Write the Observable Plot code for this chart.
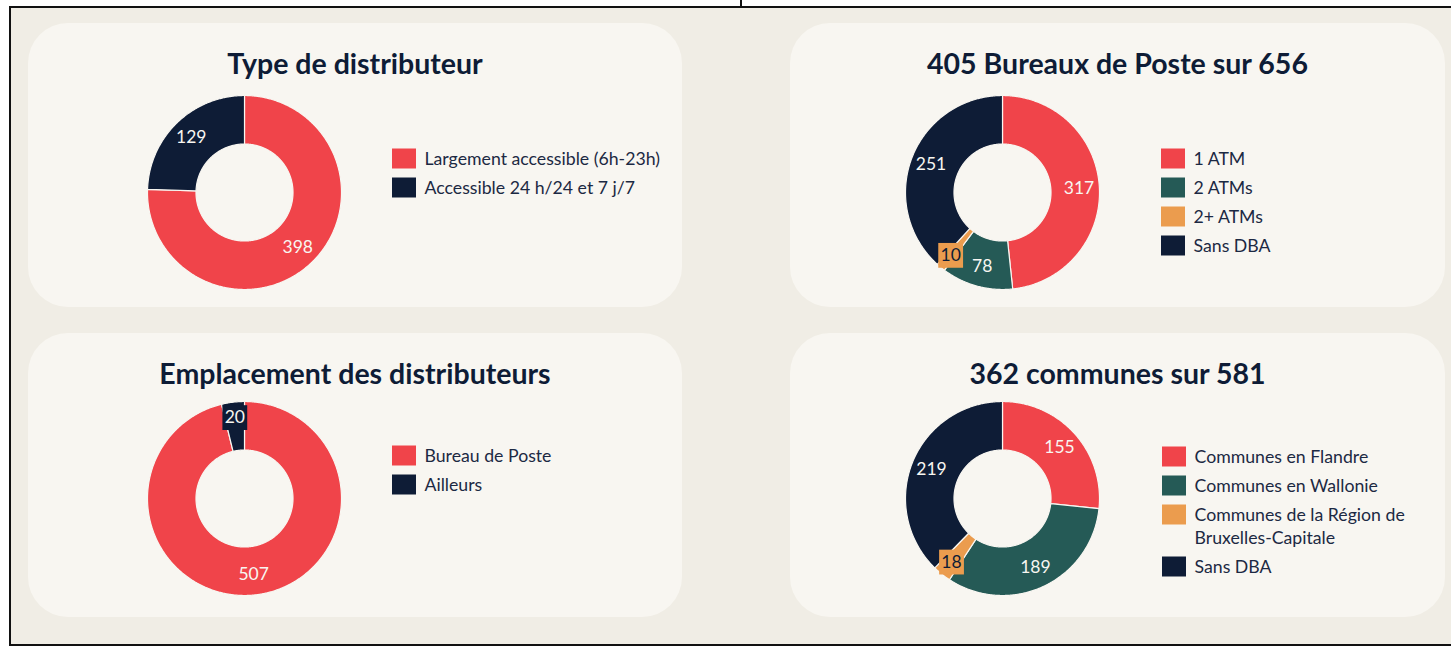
<!DOCTYPE html>
<html><head><meta charset="utf-8">
<script src="https://cdn.jsdelivr.net/npm/d3@7"></script>
<script src="https://cdn.jsdelivr.net/npm/@observablehq/plot@0.6"></script>
<style>
html,body{margin:0;padding:0;background:#fff;width:1451px;height:647px;overflow:hidden;font-family:Lato,sans-serif}
#frame{position:absolute;left:9px;top:6px;width:1470px;height:640px;border:2px solid #111;box-sizing:border-box;background:#f0ede5}
#tick{position:absolute;left:740px;top:0;width:2px;height:6px;background:#111}
.card{position:absolute;background:#f8f6f1;border-radius:40px}
.title{position:absolute;left:0;right:0;text-align:center;font-weight:700;color:#0e1c36;font-size:28.5px;line-height:1;white-space:nowrap}
.abs{position:absolute}
</style></head>
<body>
<div id="frame"></div><div id="tick"></div>
<script>
// ---- data ----
const titles = ["Type de distributeur", "405 Bureaux de Poste sur 656", "Emplacement des distributeurs", "362 communes sur 581"];
const typeLabels = ["Largement accessible (6h-23h)", "Accessible 24 h/24 et 7 j/7"];
const typeValues = [398, 129];
const bureauLabels = ["1 ATM", "2 ATMs", "2+ ATMs", "Sans DBA"];
const bureauValues = [317, 78, 10, 251];
const lieuLabels = ["Bureau de Poste", "Ailleurs"];
const lieuValues = [507, 20];
const communeLabels = ["Communes en Flandre", "Communes en Wallonie", "Communes de la Région de\nBruxelles-Capitale", "Sans DBA"];
const communeValues = [155, 189, 18, 219];

// ---- styles ----
const RED = "#f0444a", NAVY = "#0e1c36", TEAL = "#255a56", ORANGE = "#eb9c4e";
const CARD = "#f8f6f1";
const colors2 = [RED, NAVY];
const colors4 = [RED, TEAL, ORANGE, NAVY];
const FONT = "Lato, sans-serif";

// ---- layout (page px) ----
const panels = [
  {title: titles[0], labels: typeLabels, values: typeValues, colors: colors2,
   card: [28, 23, 654, 284], center: [244, 192], legend: [392, 158]},
  {title: titles[1], labels: bureauLabels, values: bureauValues, colors: colors4,
   card: [790, 23, 655, 284], center: [1002, 192], legend: [1161, 158]},
  {title: titles[2], labels: lieuLabels, values: lieuValues, colors: colors2,
   card: [28, 333, 654, 284], center: [244, 498], legend: [392, 455]},
  {title: titles[3], labels: communeLabels, values: communeValues, colors: colors4,
   card: [790, 333, 655, 284], center: [1002, 498], legend: [1162, 456]}
];
const R_PX = 97, INNER = 0.5, S = 220, ROW = 29, WRAP = 23;

function donut(p) {
  const rows = p.labels.map((label, i) => ({label, value: p.values[i]}));
  const total = d3.sum(p.values);
  const arcs = d3.pie().sort(null).value(d => d.value)(rows);
  const pts = [], labs = [];
  for (const a of arcs) {
    const n = Math.max(2, Math.ceil((a.endAngle - a.startAngle) / (Math.PI / 360)));
    for (let i = 0; i <= n; i++) {
      const t = a.startAngle + (a.endAngle - a.startAngle) * i / n;
      pts.push({label: a.data.label, x: Math.sin(t), y: Math.cos(t)});
    }
    for (let i = n; i >= 0; i--) {
      const t = a.startAngle + (a.endAngle - a.startAngle) * i / n;
      pts.push({label: a.data.label, x: INNER * Math.sin(t), y: INNER * Math.cos(t)});
    }
    const m = (a.startAngle + a.endAngle) / 2;
    const small = a.data.value / total < 0.05;
    const rr = small ? 0.84 : 0.79;
    const col = p.colors[p.labels.indexOf(a.data.label)];
    labs.push({label: a.data.label, value: a.data.value, x: rr * Math.sin(m), y: rr * Math.cos(m),
               small, dark: col === ORANGE});
  }
  const D = S / 2 / R_PX;
  const plot = Plot.plot({
    width: S, height: S, margin: 0,
    x: {domain: [-D, D], axis: null},
    y: {domain: [-D, D], axis: null},
    color: {domain: p.labels, range: p.colors},
    style: {background: "transparent", fontFamily: FONT, overflow: "visible"},
    marks: [
      Plot.line(pts, {x: "x", y: "y", z: "label", fill: "label", stroke: CARD, strokeWidth: 1.2, curve: "linear-closed"}),
      Plot.dot(labs.filter(d => d.small), {x: "x", y: "y", symbol: "square", r: 14, fill: "label"}),
      Plot.text(labs.filter(d => !d.dark), {x: "x", y: "y", text: d => String(d.value), fill: "#f8f6f1", fontSize: 17.5, fontFamily: FONT}),
      Plot.text(labs.filter(d => d.dark), {x: "x", y: "y", text: d => String(d.value), fill: NAVY, fontSize: 17.5, fontFamily: FONT})
    ]
  });
  plot.classList.add("abs");
  plot.style.left = (p.center[0] - S / 2) + "px";
  plot.style.top = (p.center[1] - S / 2) + "px";
  return plot;
}

function legend(p) {
  const items = [], lines = [];
  let pos = 0;
  p.labels.forEach((label, i) => {
    items.push({label, row: pos});
    label.split("\n").forEach((t, j) => lines.push({text: t, pos: pos + j * WRAP / ROW}));
    pos += 1 + (label.split("\n").length - 1) * WRAP / ROW;
  });
  const W = 330, H = Math.ceil(pos * ROW);
  const plot = Plot.plot({
    width: W, height: H, margin: 0,
    x: {domain: [0, W], range: [0, W], axis: null},
    y: {domain: [-0.5, pos - 0.5], range: [0, H], axis: null},
    color: {domain: p.labels, range: p.colors},
    style: {background: "transparent", fontFamily: FONT, overflow: "visible"},
    marks: [
      Plot.rect(items, {x1: () => 0, x2: () => 24, y1: d => d.row - 10 / ROW, y2: d => d.row + 10 / ROW, fill: "label"}),
      Plot.text(lines, {x: () => 32, y: "pos", text: "text", textAnchor: "start", fill: "#1c2943", fontSize: 17.7, fontFamily: FONT})
    ]
  });
  plot.classList.add("abs");
  plot.style.left = p.legend[0] + "px";
  plot.style.top = (p.legend[1] - ROW / 2) + "px";
  return plot;
}

for (const p of panels) {
  const card = document.createElement("div");
  card.className = "card";
  const [l, t, w, h] = p.card;
  Object.assign(card.style, {left: l + "px", top: t + "px", width: w + "px", height: h + "px"});
  const title = document.createElement("div");
  title.className = "title";
  title.style.top = "26px";
  title.textContent = p.title;
  card.appendChild(title);
  document.body.appendChild(card);
  document.body.appendChild(donut(p));
  document.body.appendChild(legend(p));
}
</script>
</body></html>
